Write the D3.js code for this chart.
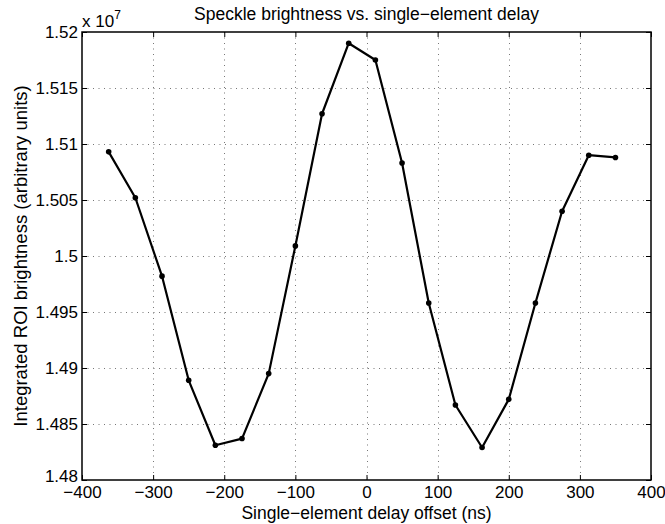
<!DOCTYPE html>
<html>
<head>
<meta charset="utf-8">
<script src="https://cdn.jsdelivr.net/npm/d3@7"></script>
<style>
  body { margin: 0; background: #fff; }
  svg { display: block; font-family: "Liberation Sans", Arial, sans-serif; }
</style>
</head>
<body>
<div id="chart"></div>
<script>
// delay offsets (ns) and integrated brightness (arbitrary units)
const delays = [-362.5, -325, -287.5, -250, -212.5, -175, -137.5, -100, -62.5, -25,
  12.5, 50, 87.5, 125, 162.5, 200, 237.5, 275, 312.5, 350];
const brightness = [1.5093e7, 1.5052e7, 1.4982e7, 1.4889e7, 1.4831e7, 1.4837e7, 1.4895e7, 1.5009e7, 1.5127e7, 1.5190e7,
  1.5175e7, 1.5083e7, 1.4958e7, 1.4867e7, 1.4829e7, 1.4872e7, 1.4958e7, 1.5040e7, 1.5090e7, 1.5088e7];

const xTicks = [-400, -300, -200, -100, 0, 100, 200, 300, 400];
const yTicks = [1.48, 1.485, 1.49, 1.495, 1.5, 1.505, 1.51, 1.515, 1.52]; // x 10^7

const width = 665;
const height = 524;
const margin = { top: 32, right: 14, bottom: 44, left: 82 };
const fontSize = 17;

const svg = d3.select("#chart").append("svg")
  .attr("width", width)
  .attr("height", height);

const x = d3.scaleLinear()
  .domain([-400, 400])
  .range([margin.left, width - margin.right]);

const y = d3.scaleLinear()
  .domain([1.48e7, 1.52e7])
  .range([height - margin.bottom, margin.top]);

const x0 = margin.left, x1 = width - margin.right;
const y0 = height - margin.bottom, y1 = margin.top;

// dotted grid
const grid = svg.append("g")
  .attr("stroke", "#777")
  .attr("stroke-width", 1)
  .attr("stroke-dasharray", "1,4.5");

grid.selectAll("line.vx")
  .data(xTicks.slice(1, -1))
  .join("line")
  .attr("x1", d => Math.round(x(d)) + 0.5)
  .attr("x2", d => Math.round(x(d)) + 0.5)
  .attr("y1", y1)
  .attr("y2", y0);

grid.selectAll("line.hy")
  .data(yTicks.slice(1, -1))
  .join("line")
  .attr("x1", x0)
  .attr("x2", x1)
  .attr("y1", d => Math.round(y(d * 1e7)) + 0.5)
  .attr("y2", d => Math.round(y(d * 1e7)) + 0.5);

// axes (ticks inside, mirrored)
const fmtX = d3.format("d");
const fmtY = d => String(+d.toFixed(3));

const bottomAxis = svg.append("g")
  .attr("transform", `translate(0,${y0})`)
  .call(d3.axisBottom(x).tickValues(xTicks).tickFormat(fmtX).tickSizeInner(-5).tickSizeOuter(0));
bottomAxis.selectAll("text").attr("y", 6).attr("dy", "0.71em");

const topAxis = svg.append("g")
  .attr("transform", `translate(0,${y1})`)
  .call(d3.axisTop(x).tickValues(xTicks).tickFormat("").tickSizeInner(-5).tickSizeOuter(0));

const leftAxis = svg.append("g")
  .attr("transform", `translate(${x0},0)`)
  .call(d3.axisLeft(y).tickValues(yTicks.map(d => d * 1e7)).tickFormat(d => fmtY(d / 1e7)).tickSizeInner(-5).tickSizeOuter(0));
leftAxis.selectAll("text")
  .attr("x", -4)
  .attr("dy", (d, i) => i === 0 ? "0.1em" : "0.32em");

const rightAxis = svg.append("g")
  .attr("transform", `translate(${x1},0)`)
  .call(d3.axisRight(y).tickValues(yTicks.map(d => d * 1e7)).tickFormat("").tickSizeInner(-5).tickSizeOuter(0));

[bottomAxis, topAxis, leftAxis, rightAxis].forEach(g => {
  g.select(".domain").remove();
  g.selectAll("line").attr("stroke", "#000").attr("stroke-width", 1);
  g.selectAll("text").attr("font-size", fontSize).attr("font-family", null).attr("fill", "#000");
});

// box
svg.append("rect")
  .attr("x", x0)
  .attr("y", y1)
  .attr("width", x1 - x0)
  .attr("height", y0 - y1)
  .attr("fill", "none")
  .attr("stroke", "#000")
  .attr("stroke-width", 1.5);

// data line and markers
const pts = delays.map((d, i) => [d, brightness[i]]);

svg.append("path")
  .datum(pts)
  .attr("fill", "none")
  .attr("stroke", "#000")
  .attr("stroke-width", 2.2)
  .attr("stroke-linejoin", "round")
  .attr("d", d3.line().x(d => x(d[0])).y(d => y(d[1])));

svg.append("g")
  .selectAll("circle")
  .data(pts)
  .join("circle")
  .attr("cx", d => x(d[0]))
  .attr("cy", d => y(d[1]))
  .attr("r", 2.8)
  .attr("fill", "#000");

// labels
svg.append("text")
  .attr("x", (x0 + x1) / 2)
  .attr("y", 20)
  .attr("text-anchor", "middle")
  .attr("font-size", 17.5)
  .text("Speckle brightness vs. single\u2212element delay");

const exp = svg.append("text")
  .attr("x", x0)
  .attr("y", 27)
  .attr("font-size", fontSize);
exp.append("tspan").text("x 10");
exp.append("tspan").attr("font-size", 12).attr("dy", -8).text("7");

svg.append("text")
  .attr("x", (x0 + x1) / 2)
  .attr("y", 519)
  .attr("text-anchor", "middle")
  .attr("font-size", 17.5)
  .text("Single\u2212element delay offset (ns)");

svg.append("text")
  .attr("transform", `translate(27,${(y0 + y1) / 2}) rotate(-90)`)
  .attr("text-anchor", "middle")
  .attr("font-size", 18.5)
  .text("Integrated ROI brightness (arbitrary units)");
</script>
</body>
</html>
